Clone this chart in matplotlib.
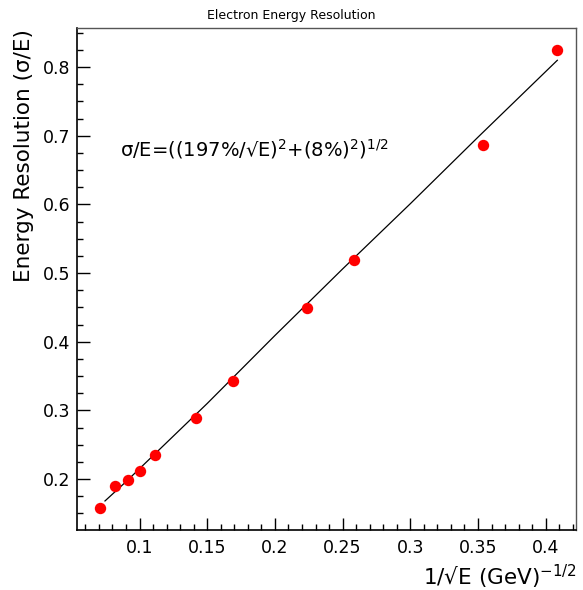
import matplotlib

matplotlib.use("Agg")
import matplotlib.pyplot as plt  # noqa: E402
from matplotlib.ticker import MultipleLocator  # noqa: E402

# measured points: 1/sqrt(E) vs sigma/E
inv_sqrt_e = [0.0707, 0.0816, 0.0913, 0.1000, 0.1118, 0.1414, 0.1690,
              0.2236, 0.2582, 0.3536, 0.4082]
resolution = [0.158, 0.190, 0.198, 0.212, 0.235, 0.289, 0.343,
              0.449, 0.519, 0.687, 0.825]

# fit curve
fit_x = [0.0745, 0.090, 0.110, 0.150, 0.200, 0.250, 0.300, 0.350, 0.4086]
fit_y = [0.168, 0.196, 0.234, 0.310, 0.409, 0.506, 0.601, 0.698, 0.810]

_RED = "#ff0000"
_FRAME = "#555555"

fig = plt.figure(figsize=(5.83, 5.90), dpi=100)
ax = fig.add_axes([0.132, 0.1017, 0.856, 0.8508])

ax.plot(fit_x, fit_y, color="black", linewidth=0.9, zorder=2)
ax.plot(inv_sqrt_e, resolution, "o", color=_RED, markersize=8.2,
        markeredgewidth=0, zorder=3)

ax.set_xlim(0.0538, 0.4224)
ax.set_ylim(0.1257, 0.857)
ax.xaxis.set_major_locator(MultipleLocator(0.05))
ax.xaxis.set_minor_locator(MultipleLocator(0.01))
ax.yaxis.set_major_locator(MultipleLocator(0.1))
ax.yaxis.set_minor_locator(MultipleLocator(0.025))
ax.xaxis.set_major_formatter(plt.FuncFormatter(lambda v, _: f"{v:g}"))
ax.yaxis.set_major_formatter(plt.FuncFormatter(lambda v, _: f"{v:g}"))

ax.tick_params(which="both", direction="in", top=False, right=False,
               labelsize=12.5, width=1.0)
ax.tick_params(axis="x", which="major", length=9, pad=6.5)
ax.tick_params(axis="x", which="minor", length=4.5)
ax.tick_params(axis="y", which="major", length=9, pad=4.5)
ax.tick_params(axis="y", which="minor", length=4.5)

for side in ("left", "bottom"):
    ax.spines[side].set_color("black")
    ax.spines[side].set_linewidth(1.2)
for side in ("top", "right"):
    ax.spines[side].set_color(_FRAME)
    ax.spines[side].set_linewidth(1.0)

ax.text(0.0856, 0.68, "σ/E=((197%/√E)$^2$+(8%)$^2$)$^{1/2}$",
        fontsize=14, ha="left", va="center")

fig.text(0.5, 1 - 15 / 590, "Electron Energy Resolution", fontsize=9,
         ha="center", va="center")
fig.text(0.988, 1 - 577 / 590, "1/√E (GeV)$^{-1/2}$", fontsize=15.5,
         ha="right", va="center")
fig.text(24 / 583, 1 - 29 / 590, "Energy Resolution (σ/E)", fontsize=15.5,
         rotation=90, ha="center", va="top")

fig.savefig("out.png", dpi=100, facecolor="white")
